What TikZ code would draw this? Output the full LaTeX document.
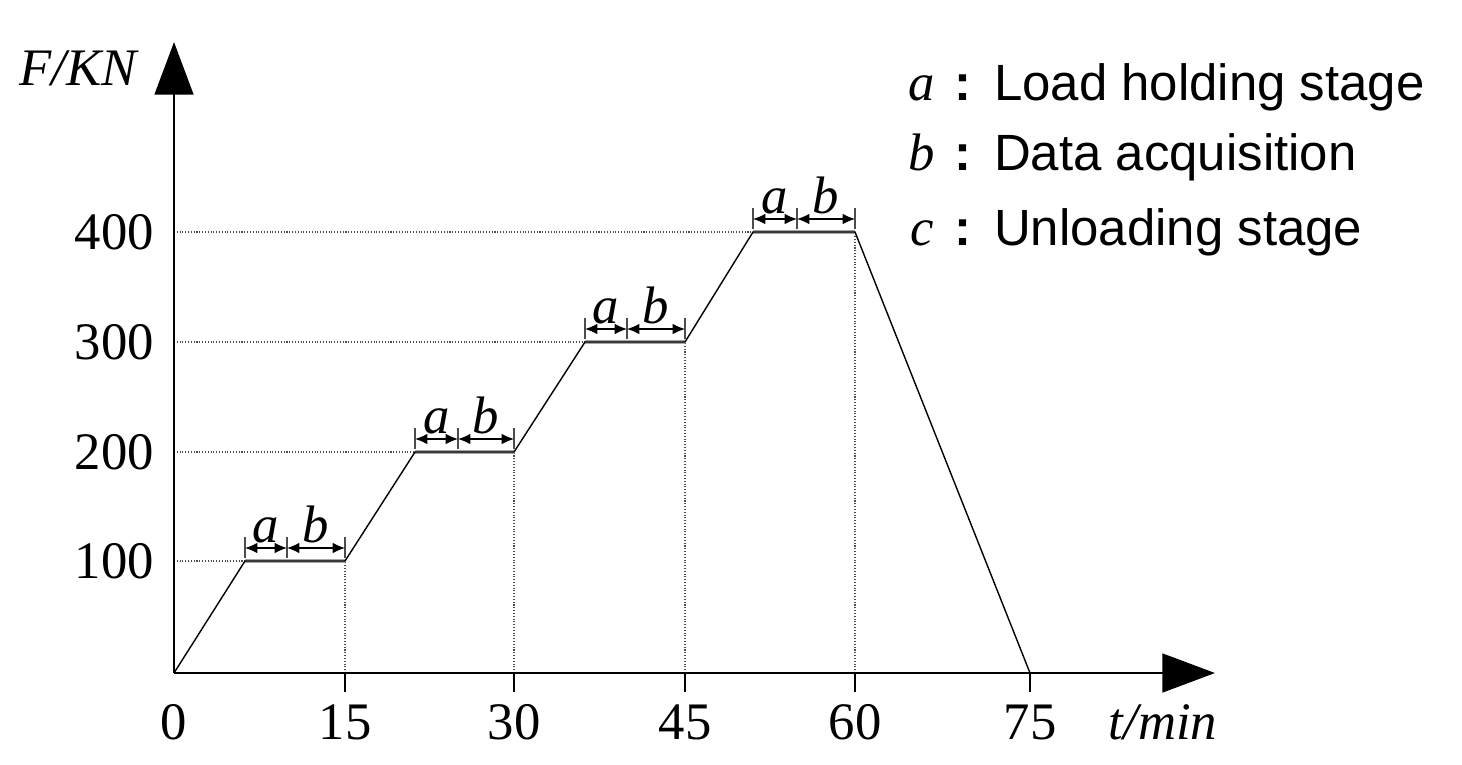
\documentclass[tikz,border=0pt]{standalone}
\usepackage{fontspec}
\setmainfont{Liberation Serif}
\newfontfamily\lgfont{Liberation Sans}
\usetikzlibrary{arrows.meta}
\begin{document}
\begin{tikzpicture}[x=0.02cm,y=-0.02cm,
  axis/.style={line width=1.6pt,-{Triangle[length=30,width=22]}},
  guide/.style={densely dotted,line width=0.6pt,black!70},
  curve/.style={line width=0.8pt},
  plat/.style={line width=2.2pt,black!35},
  dim/.style={line width=0.7pt,{Latex[length=7,width=6]}-{Latex[length=7,width=6]}},
  num/.style={font=\fontsize{30}{34}\selectfont},
  lab/.style={font=\fontsize{30}{34}\selectfont\itshape},
  leg/.style={font=\fontsize{29}{34}\selectfont\lgfont,anchor=base west}]
\useasboundingbox (0,0) rectangle (1462,764);
\coordinate (O) at (174,673);
\coordinate (ytop) at (174,42);
\coordinate (xend) at (1215,673);
% guides
\foreach \y/\xs in {561/245,452/415,342/585,232/753}{\draw[guide] (174,\y) -- (\xs,\y);}
\draw[guide] (345,673) -- (345,561);
\draw[guide] (514,673) -- (514,452);
\draw[guide] (685,673) -- (685,342);
\draw[guide] (855,673) -- (855,232);
% plateaus
\foreach \xs/\xe/\y in {245/345/561,415/514/452,585/685/342,753/855/232}{\draw[plat] (\xs,\y) -- (\xe,\y);}
% curve
\draw[curve] (O) -- (245,561) -- (345,561) -- (415,452) -- (514,452) -- (585,342) -- (685,342) -- (753,232) -- (855,232) -- (1030,673);
% dimension marks
\foreach \xs/\xm/\xe/\y in {245/287/345/561,415/458/514/452,585/627/685/342,753/797/855/232}{
  \draw[line width=0.6pt,black!70] (\xs,\y-3) -- (\xs,\y-24) (\xm,\y-3) -- (\xm,\y-24) (\xe,\y-3) -- (\xe,\y-24);
  \draw[dim] (\xs,\y-13) -- (\xm,\y-13);
  \draw[dim] (\xm,\y-13) -- (\xe,\y-13);
  \node[lab,anchor=base] at ({(\xs+\xm)/2},\y-19) {a};
  \node[lab,anchor=base] at ({(\xm+\xe)/2},\y-19) {b};
}
% axes
\draw[axis] (O) -- (ytop);
\draw[axis] (O) -- (xend);
\foreach \x in {345,514,685,855,1030}{\draw[line width=0.8pt] (\x,673) -- (\x,692);}
% labels
\node[num] (l0) at (174,722) {0};
\foreach \x/\t in {345/15,514/30,685/45,855/60,1030/75}{\node[num] at (\x,722) {\t};}
\foreach \y/\t in {561/100,452/200,342/300,232/400}{\node[num,anchor=east] at (160,\y) {\t};}
\node[lab] at (78,68) {F/KN};
\node[lab] at (1163,722) {t/min};
\foreach \y/\l/\t in {100/a/Load holding stage,170/b/Data acquisition,245/c/Unloading stage}{
  \node[lab,anchor=base] at (922,\y) {\l};
  \node[leg] at (948,\y) {\textbf{:}\hspace{0.45em}\t};}
\end{tikzpicture}
\end{document}
